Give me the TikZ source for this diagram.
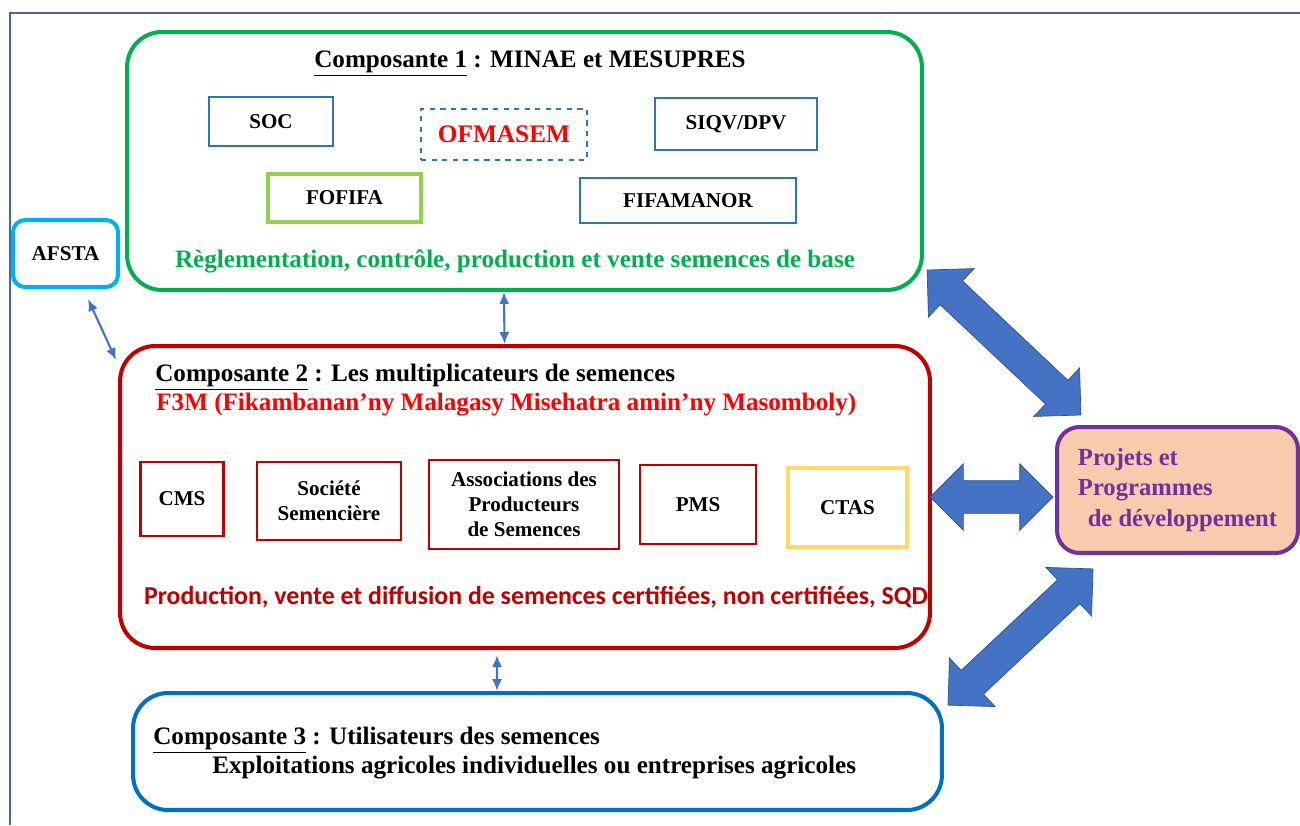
\documentclass[tikz,border=0pt]{standalone}
\usepackage{fontspec}
\setmainfont{Liberation Serif}
\newfontfamily\calibri{Carlito}
\usepackage{xcolor}
\usepackage{tikz}
\usetikzlibrary{positioning,shapes.arrows,arrows.meta}
\definecolor{compgreen}{HTML}{00B050}
\definecolor{compred}{HTML}{C00000}
\definecolor{compblue}{HTML}{0070C0}
\definecolor{afstablue}{HTML}{00B0F0}
\definecolor{orgblue}{HTML}{2E75B6}
\definecolor{fofgreen}{HTML}{92D050}
\definecolor{ctasyellow}{HTML}{FFD966}
\definecolor{projpurple}{HTML}{7030A0}
\definecolor{projfill}{HTML}{F8CBAD}
\definecolor{linkblue}{HTML}{4472C4}
\definecolor{linkedge}{HTML}{2F528F}
\definecolor{framecol}{HTML}{4A6699}

\begin{document}
\begin{tikzpicture}[
        x=0.02cm, y=-0.02cm,
        every node/.style={
            align=center,
            font=\bfseries\fontsize{12}{14.2}\selectfont
        },
        bigbox/.style={
            draw,
            line width=2.3pt,
            rounded corners=0.7cm
        },
        orgbox/.style={
            draw=orgblue,
            line width=0.8pt,
            inner sep=0pt
        },
        multbox/.style={
            draw=compred,
            line width=1.3pt,
            inner sep=0pt
        },
        headline/.style={
            anchor=west,
            inner sep=0pt,
            font=\bfseries\fontsize{14.3}{16}\selectfont
        },
        arrow/.style={
            {Latex[length=2.4mm,width=2mm]}-{Latex[length=2.4mm,width=2mm]},
            line width=1.2pt,
            color=linkblue
        },
        blockarrow/.style={
            double arrow,
            double arrow head extend=0.34cm,
            inner xsep=0pt,
            inner ysep=0.32cm,
            fill=linkblue,
            draw=linkedge,
            line width=0.4pt
        }
    ]
        \useasboundingbox (0,0) rectangle (1300,825);
        \draw[framecol, line width=1pt] (10,825) -- (10,13) -- (1300,13);

        % Composante 1
        \node[bigbox, draw=compgreen, minimum width=15.9cm, minimum height=5.16cm] (comp1) at (524.5,161) {};
        \node[font=\bfseries\fontsize{14.3}{16}\selectfont] (title1) at (530,64) {\underline{Composante 1} : MINAE et MESUPRES};
        \node[orgbox, minimum width=2.48cm, minimum height=0.98cm] (soc) at (271,121.5) {SOC};
        \node[orgbox, dashed, text=red, minimum width=3.32cm, minimum height=1.02cm,
              font=\bfseries\fontsize{14.4}{16}\selectfont] (ofmasem) at (504,134.5) {OFMASEM};
        \node[orgbox, minimum width=3.24cm, minimum height=1.04cm] (siqv) at (736,124) {SIQV/DPV};
        \node[orgbox, draw=fofgreen, line width=2.2pt, minimum width=3.06cm, minimum height=0.96cm] (fofifa) at (344.5,198) {FOFIFA};
        \node[orgbox, minimum width=4.32cm, minimum height=0.9cm] (fifamanor) at (688,200.5) {FIFAMANOR};
        \node[text=compgreen, font=\bfseries\fontsize{14.3}{16}\selectfont] (role1) at (515,261) {Règlementation, contrôle, production et vente semences de base};

        % AFSTA
        \node[draw=afstablue, line width=2.3pt, rounded corners=0.24cm, minimum width=2.1cm, minimum height=1.34cm] (afsta) at (65.5,253.5) {AFSTA};

        % Composante 2
        \node[bigbox, draw=compred, minimum width=16.2cm, minimum height=6.04cm] (comp2) at (525,497) {};
        \node[headline] (title2) at (155,377) {\underline{Composante 2} : Les multiplicateurs de semences};
        \node[headline, text=red] (f3m) at (156,405) {F3M (Fikambanan’ny Malagasy Misehatra amin’ny Masomboly)};
        \node[multbox, minimum width=1.66cm, minimum height=1.48cm] (cms) at (182,499) {CMS};
        \node[multbox, minimum width=2.88cm, minimum height=1.56cm] (societe) at (329,501) {Société\\Semencière};
        \node[multbox, minimum width=3.8cm, minimum height=1.78cm] (aps) at (524,504.5) {Associations des\\Producteurs\\de Semences};
        \node[multbox, minimum width=2.32cm, minimum height=1.58cm] (pms) at (698,504.5) {PMS};
        \node[multbox, draw=ctasyellow, line width=2.2pt, minimum width=2.38cm, minimum height=1.58cm] (ctas) at (847.5,507.5) {CTAS};
        \node[text=compred, font=\calibri\bfseries\fontsize{14.7}{17}\selectfont] (role2) at (536,597) {Production, vente et diffusion de semences certifiées, non certifiées, SQD};

        % Composante 3
        \node[bigbox, draw=compblue, minimum width=16.18cm, minimum height=2.34cm] (comp3) at (537.5,751.5) {};
        \node[headline] (title3) at (153,740) {\underline{Composante 3} : Utilisateurs des semences};
        \node[headline] (users) at (212,768) {Exploitations agricoles individuelles ou entreprises agricoles};

        % Projets
        \node[draw=projpurple, fill=projfill, line width=2.3pt, rounded corners=0.45cm, text=projpurple, align=left,
              minimum width=4.82cm, minimum height=2.52cm, font=\bfseries\fontsize{14}{17.3}\selectfont] (proj) at (1177.5,490)
              {Projets et\\Programmes\\\hspace{0.4em}de développement};

        \draw[arrow] ([xshift=-0.41cm]comp1.south) -- ([xshift=-0.41cm]comp2.north);
        \draw[arrow] ([xshift=-0.56cm, yshift=-0.1cm]comp2.south) -- ([xshift=-0.81cm]comp3.north);
        \draw[arrow] ([xshift=0.45cm, yshift=-0.2cm]afsta.south) -- ([xshift=-0.04cm, yshift=-0.32cm]comp2.north west);

        % big links to the projects
        \node[blockarrow, minimum height=4.23cm, rotate=-43.3] (linktop) at (1004,342.5) {};
        \node[blockarrow, minimum height=2.46cm] (linkmid) at (991.5,497) {};
        \node[blockarrow, minimum height=3.98cm, rotate=43.2] (linkbot) at (1020.5,637) {};
    \end{tikzpicture}
\end{document}
